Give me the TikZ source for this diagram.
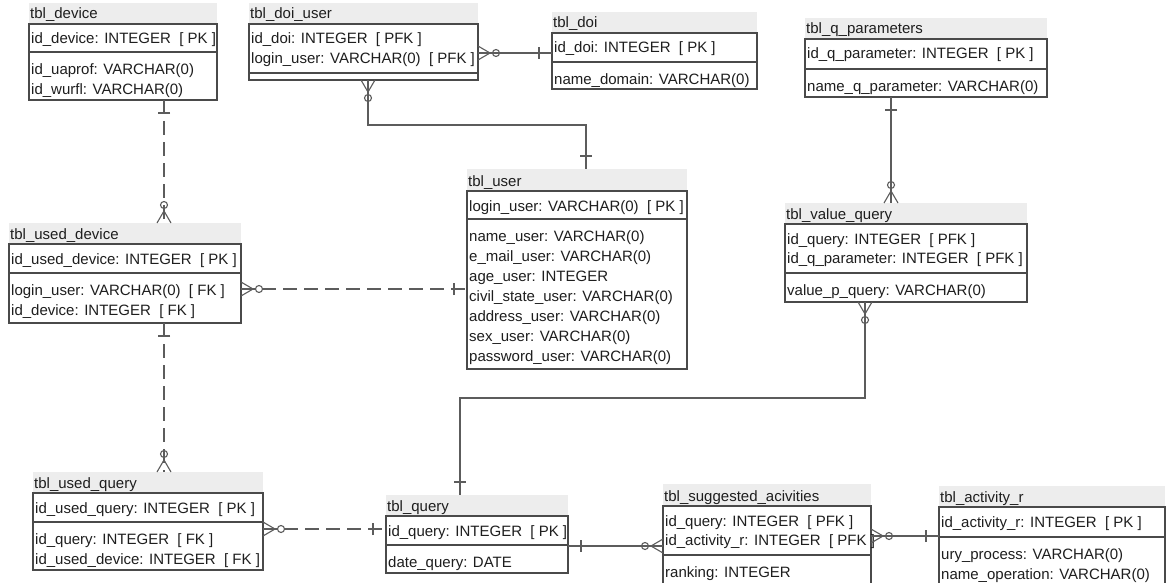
\documentclass[tikz,border=0pt]{standalone}
\usepackage{fontspec}
\setmainfont{Liberation Sans}
\usetikzlibrary{fit}

\definecolor{erline}{HTML}{4A4A4A}
\definecolor{erconn}{HTML}{5C5C5C}
\definecolor{ertitle}{HTML}{EDEDED}
\definecolor{ertext}{HTML}{1E1E1E}

\tikzset{
  tblnode/.style={inner sep=0pt, outer sep=0pt},
  tblframe/.style={draw=erline, line width=1.2pt},
  tbltitlebg/.style={fill=ertitle},
  ertxt/.style={inner sep=0pt, anchor=base west, text=ertext, font=\fontsize{15}{18}\selectfont},
  conn/.style={draw=erconn, line width=1.1pt},
  conndash/.style={conn, dash pattern=on 14pt off 7pt},
}

% table: name, left, right, title top, box top, divider, bottom, title
\newcommand\erTable[8]{%
  \fill[tbltitlebg] (#2,#4) rectangle (#3,#5);
  \draw[tblframe] (#2,#5) rectangle (#3,#7) (#2,#6) -- (#3,#6);
  \node[tblnode, fit={(#2,#4) (#3,#7)}] (#1) {};
  \node[ertxt] (#1-title) at (#2+1,#5-5) {#8};
  \def\erL{#2}\def\erBT{#5}\def\erDV{#6}\def\erName{#1}%
}
% key rows above the divider, value rows below it
\newcommand\erKey[2]{\node[ertxt] (\erName-k#1) at (\erL+2, \erBT+20+19.5*#1-19.5) {#2};}
\newcommand\erVal[2]{\node[ertxt] (\erName-v#1) at (\erL+2, \erDV+22.5+20*#1-20) {#2};}

% relationship ends: point, outward direction
\newcommand\erOne[2]{\begin{scope}[shift={#1}, rotate=#2]\draw[conn] (13,-6) -- (13,6);\end{scope}}
\newcommand\erMany[2]{\begin{scope}[shift={#1}, rotate=#2]%
  \draw[conn] (0,-7) -- (12,0) -- (0,7);
  \draw[conn] (18,0) circle[radius=3.5];\end{scope}}

\begin{document}
\begin{tikzpicture}[x=1pt,y=-1pt]
\fill[white] (0,0) rectangle (1166,583);
\useasboundingbox (0,0) rectangle (1166,583);
\clip (0,0) rectangle (1166,583);

% ---------- tables ----------
\erTable{device}{29}{217}{3}{24}{52}{100}{tbl\_device}
\erKey{1}{id\_device: INTEGER\ \ [ PK ]}
\erVal{1}{id\_uaprof: VARCHAR(0)}
\erVal{2}{id\_wurfl: VARCHAR(0)}

\erTable{doiuser}{249}{478}{3}{24}{73}{80}{tbl\_doi\_user}
\erKey{1}{id\_doi: INTEGER\ \ [ PFK ]}
\erKey{2}{login\_user: VARCHAR(0)\ \ [ PFK ]}

\erTable{doi}{552}{757}{12}{33}{62}{89}{tbl\_doi}
\erKey{1}{id\_doi: INTEGER\ \ [ PK ]}
\erVal{1}{name\_domain: VARCHAR(0)}

\erTable{qparam}{805}{1047}{18}{39}{69}{97}{tbl\_q\_parameters}
\erKey{1}{id\_q\_parameter: INTEGER\ \ [ PK ]}
\erVal{1}{name\_q\_parameter: VARCHAR(0)}

\erTable{useddevice}{9}{241}{223}{244}{273}{323}{tbl\_used\_device}
\erKey{1}{id\_used\_device: INTEGER\ \ [ PK ]}
\erVal{1}{login\_user: VARCHAR(0)\ \ [ FK ]}
\erVal{2}{id\_device: INTEGER\ \ [ FK ]}

\erTable{user}{467}{687}{169}{191}{219}{369}{tbl\_user}
\erKey{1}{login\_user: VARCHAR(0)\ \ [ PK ]}
\erVal{1}{name\_user: VARCHAR(0)}
\erVal{2}{e\_mail\_user: VARCHAR(0)}
\erVal{3}{age\_user: INTEGER}
\erVal{4}{civil\_state\_user: VARCHAR(0)}
\erVal{5}{address\_user: VARCHAR(0)}
\erVal{6}{sex\_user: VARCHAR(0)}
\erVal{7}{password\_user: VARCHAR(0)}

\erTable{valuequery}{785}{1027}{203}{224}{273}{302}{tbl\_value\_query}
\erKey{1}{id\_query: INTEGER\ \ [ PFK ]}
\erKey{2}{id\_q\_parameter: INTEGER\ \ [ PFK ]}
\erVal{1}{value\_p\_query: VARCHAR(0)}

\erTable{usedquery}{33}{263}{472}{493}{522}{570}{tbl\_used\_query}
\erKey{1}{id\_used\_query: INTEGER\ \ [ PK ]}
\erVal{1}{id\_query: INTEGER\ \ [ FK ]}
\erVal{2}{id\_used\_device: INTEGER\ \ [ FK ]}

\erTable{query}{386}{568}{495}{516}{545}{573}{tbl\_query}
\erKey{1}{id\_query: INTEGER\ \ [ PK ]}
\erVal{1}{date\_query: DATE}

\erTable{suggested}{663}{871}{484}{506}{555}{592}{tbl\_suggested\_acivities}
\erKey{1}{id\_query: INTEGER\ \ [ PFK ]}
\erKey{2}{id\_activity\_r: INTEGER\ \ [ PFK ]}
\erVal{1}{ranking: INTEGER}

\erTable{activity}{939}{1165}{486}{507}{537}{592}{tbl\_activity\_r}
\erKey{1}{id\_activity\_r: INTEGER\ \ [ PK ]}
\erVal{1}{ury\_process: VARCHAR(0)}
\erVal{2}{name\_operation: VARCHAR(0)}

% ---------- relationships ----------
% device -- used_device
\draw[conndash] (device.south -| 164,0) -- (useddevice.north -| 164,0);
\erOne{(device.south -| 164,0)}{-90}
\erMany{(useddevice.north -| 164,0)}{90}

% doi_user -- user
\draw[conn] (doiuser.south -| 368,0) -- (368,125) -- (586,125) -- (user.north -| 586,0);
\erMany{(doiuser.south -| 368,0)}{-90}
\erOne{(user.north -| 586,0)}{90}

% doi_user -- doi
\draw[conn] (doiuser.east |- 0,53) -- (doi.west |- 0,53);
\erMany{(doiuser.east |- 0,53)}{0}
\erOne{(doi.west |- 0,53)}{180}

% q_parameters -- value_query
\draw[conn] (qparam.south -| 891,0) -- (valuequery.north -| 891,0);
\erOne{(qparam.south -| 891,0)}{-90}
\erMany{(valuequery.north -| 891,0)}{90}

% used_device -- user
\draw[conndash] (useddevice.east |- 0,289) -- (user.west |- 0,289);
\erMany{(useddevice.east |- 0,289)}{0}
\erOne{(user.west |- 0,289)}{180}

% used_device -- used_query
\draw[conndash] (useddevice.south -| 164,0) -- (usedquery.north -| 164,0);
\erOne{(useddevice.south -| 164,0)}{-90}
\erMany{(usedquery.north -| 164,0)}{90}

% value_query -- query
\draw[conn] (valuequery.south -| 865,0) -- (865,398) -- (460,398) -- (query.north -| 460,0);
\erMany{(valuequery.south -| 865,0)}{-90}
\erOne{(query.north -| 460,0)}{90}

% used_query -- query
\draw[conndash] (usedquery.east |- 0,529) -- (query.west |- 0,529);
\erMany{(usedquery.east |- 0,529)}{0}
\erOne{(query.west |- 0,529)}{180}

% query -- suggested_acivities
\draw[conn] (query.east |- 0,546) -- (suggested.west |- 0,546);
\erOne{(query.east |- 0,546)}{0}
\erMany{(suggested.west |- 0,546)}{180}

% suggested_acivities -- activity_r
\draw[conn] (suggested.east |- 0,536) -- (activity.west |- 0,536);
\erMany{(suggested.east |- 0,536)}{0}
\erOne{(activity.west |- 0,536)}{180}
\end{tikzpicture}
\end{document}
